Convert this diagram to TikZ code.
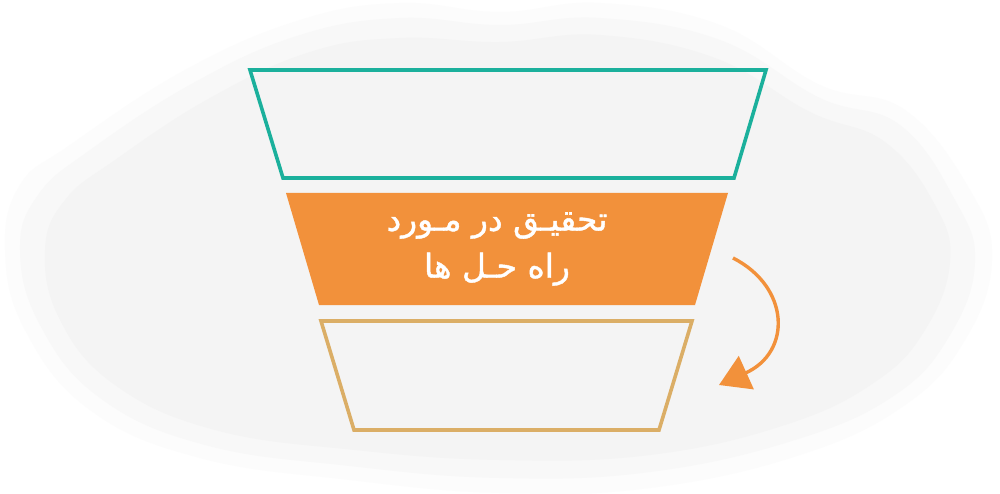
\documentclass[tikz,border=0pt]{standalone}
\usepackage{fontspec}
\usetikzlibrary{arrows.meta}
\TeXXeTstate=1
\newfontfamily\arabicfont[Script=Arabic,FakeBold=1.2]{DejaVu Sans}
\definecolor{teal1}{HTML}{1BB09C}
\definecolor{orange1}{HTML}{F2913B}
\definecolor{tan1}{HTML}{DBAE66}
\definecolor{cloudA}{HTML}{FCFCFC}
\definecolor{cloudB}{HTML}{F8F8F8}
\definecolor{cloudC}{HTML}{F4F4F4}
\tikzset{
  frame/.style={line width=3.6pt, line join=miter},
  lbl/.style={text=white, font=\arabicfont\fontsize{33}{47}\selectfont, align=center}
}
\begin{document}
\begin{tikzpicture}[x=1pt,y=-1pt]
\useasboundingbox (0,0) rectangle (1000,494);
\fill[white] (0,0) rectangle (1000,494);
% background cloud (soft layers)
\fill[cloudA] plot[smooth cycle, tension=0.7] coordinates {
 (5,250) (20,185) (70,145) (185,70) (300,20) (400,3) (500,12) (600,3) (720,25)
 (820,85) (905,110) (970,190) (992,260) (965,340) (905,405) (800,455) (650,488)
 (500,493) (350,480) (200,458) (90,410) (25,330)};
\fill[cloudB] plot[smooth cycle, tension=0.7] coordinates {
 (20,250) (38,195) (90,150) (195,82) (300,35) (400,18) (500,25) (600,18) (720,40)
 (820,98) (900,125) (955,200) (975,262) (950,335) (895,395) (795,440) (650,472)
 (500,478) (350,466) (205,445) (100,398) (40,325)};
\fill[cloudC] plot[smooth cycle, tension=0.7] coordinates {
 (45,250) (65,200) (115,160) (210,98) (310,52) (400,38) (500,42) (600,35) (715,58)
 (810,112) (885,142) (935,205) (950,262) (925,330) (875,382) (785,425) (650,455)
 (500,460) (355,450) (215,430) (115,385) (60,320)};
% top trapezoid
\draw[frame, teal1] (250,70) -- (766,70) -- (734,178) -- (283,178) -- cycle;
% middle trapezoid
\fill[orange1] (286,193) -- (728,193) -- (695,305) -- (319,305) -- cycle;
\node[lbl] (mid) at (497,249) {\beginR تحقیـق در مـورد\endR\\\beginR راه حـل ها\endR};
% bottom trapezoid
\draw[frame, tan1] (321,321) -- (692,321) -- (659,430) -- (354,430) -- cycle;
% arrow
\coordinate (as) at (733,258);
\coordinate (ae) at (719,385);
\draw[orange1, line width=3.4pt, -{Triangle[length=30pt,width=36pt]}] (as) .. controls (790,287) and (792,352) .. (ae);
\end{tikzpicture}
\end{document}
